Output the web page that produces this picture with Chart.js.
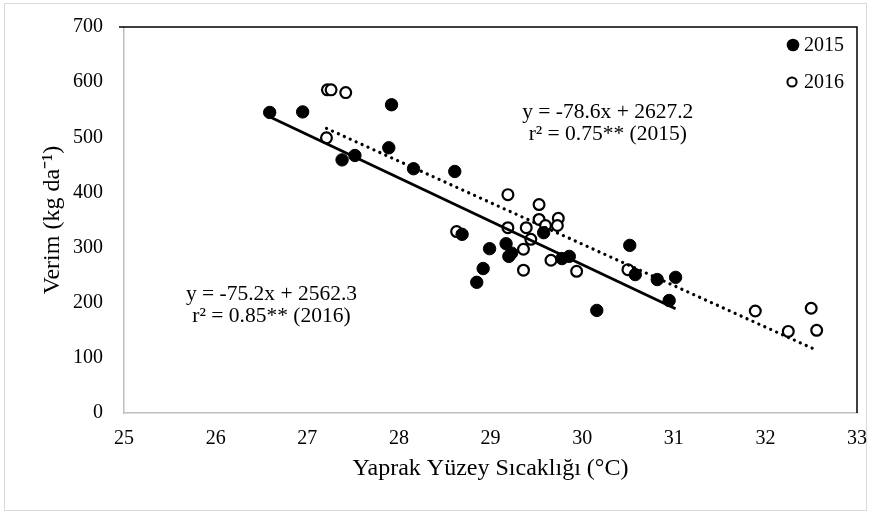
<!DOCTYPE html>
<html>
<head>
<meta charset="utf-8">
<script src="https://cdn.jsdelivr.net/npm/chart.js@4.4.1/dist/chart.umd.min.js"></script>
<style>
  html, body { margin: 0; padding: 0; background: #fff; }
  #wrap { position: relative; width: 872px; height: 515px; }
</style>
</head>
<body>
<div id="wrap"><canvas id="chart" width="872" height="515"></canvas></div>
<script>
// 2015 yılı ölçümleri (sıcaklık °C, verim kg/da)
const temp2015 = [26.59, 26.95, 27.92, 27.38, 27.52, 27.89, 28.16, 28.61, 28.69, 28.85, 28.92, 28.99,
                  29.17, 29.20, 29.23, 29.58, 29.78, 29.86, 30.16, 30.52, 30.58, 30.82, 31.02, 30.95];
const yield2015 = [545, 546, 559, 459, 467, 481, 443, 438, 324, 237, 262, 298,
                   307, 284, 290, 327, 280, 284, 186, 304, 251, 242, 246, 204];

// 2016 yılı ölçümleri
const temp2016 = [27.22, 27.26, 27.42, 27.21, 28.63, 29.19, 29.53, 29.19, 29.53, 29.39, 29.60, 29.44,
                  29.36, 29.74, 29.73, 29.66, 29.36, 29.94, 30.50, 31.89, 32.25, 32.50, 32.56];
const yield2016 = [586, 586, 581, 499, 329, 396, 378, 336, 351, 336, 340, 315,
                   297, 353, 340, 277, 259, 257, 260, 185, 148, 190, 150];

// trend çizgileri (uç noktalar)
const trend2015X = [26.6, 31.02];
const trend2015Y = [536.4, 189.0];
const trend2016X = [27.21, 32.56];
const trend2016Y = [516.1, 113.8];

// eksen ayarları
const xTicks = [25, 26, 27, 28, 29, 30, 31, 32, 33];
const yTicks = [0, 100, 200, 300, 400, 500, 600, 700];
const seriesNames = ['2015', '2016'];

// denklem etiketleri
const eq2015 = ['y = -78.6x + 2627.2', 'r² = 0.75** (2015)'];
const eq2016 = ['y = -75.2x + 2562.3', 'r² = 0.85** (2016)'];
const eqPos2015 = { x: 30.28, y: 546 };
const eqPos2016 = { x: 26.61, y: 215 };

const FONT = '"Liberation Serif", "Times New Roman", serif';

function toPoints(xs, ys) {
    return xs.map((x, i) => ({ x: x, y: ys[i] }));
}

// çerçeve, lejant ve denklemler
const decorPlugin = {
    id: 'decor',
    beforeDraw(chart) {
        const ctx = chart.ctx;
        ctx.save();
        ctx.fillStyle = '#fff';
        ctx.fillRect(0, 0, chart.width, chart.height);
        ctx.strokeStyle = '#d9d9d9';
        ctx.lineWidth = 1;
        ctx.strokeRect(4.5, 3.5, 862, 507);
        ctx.restore();
    },
    afterDraw(chart) {
        const ctx = chart.ctx;
        const a = chart.chartArea;
        const xs = chart.scales.x, ys = chart.scales.y;
        ctx.save();
        // üst ve sağ kenar
        ctx.strokeStyle = '#000';
        ctx.lineWidth = 1.5;
        ctx.beginPath();
        ctx.moveTo(a.left - 5, a.top);
        ctx.lineTo(a.right, a.top);
        ctx.lineTo(a.right, a.bottom);
        ctx.stroke();

        // lejant
        ctx.font = '20px ' + FONT;
        ctx.fillStyle = '#000';
        ctx.textBaseline = 'middle';
        ctx.textAlign = 'left';
        ctx.beginPath();
        ctx.arc(793, 45, 6.3, 0, Math.PI * 2);
        ctx.fill();
        ctx.fillText(seriesNames[0], 804, 46);
        ctx.beginPath();
        ctx.arc(792, 82, 4.6, 0, Math.PI * 2);
        ctx.lineWidth = 2;
        ctx.stroke();
        ctx.fillText(seriesNames[1], 804, 83);

        // denklemler
        ctx.font = '21.5px ' + FONT;
        ctx.textAlign = 'center';
        const drawEq = (lines, pos) => {
            const px = xs.getPixelForValue(pos.x);
            const py = ys.getPixelForValue(pos.y);
            ctx.fillText(lines[0], px, py);
            ctx.fillText(lines[1], px, py + 22);
        };
        drawEq(eq2015, eqPos2015);
        drawEq(eq2016, eqPos2016);
        ctx.restore();
    }
};

const ctx = document.getElementById('chart').getContext('2d');
new Chart(ctx, {
    type: 'scatter',
    data: {
        datasets: [
            {
                label: '2015 trend',
                type: 'line',
                data: toPoints(trend2015X, trend2015Y),
                borderColor: '#000',
                borderWidth: 2.8,
                pointRadius: 0,
                fill: false,
                order: 1
            },
            {
                label: '2016 trend',
                type: 'line',
                data: toPoints(trend2016X, trend2016Y),
                borderColor: '#000',
                borderWidth: 3.2,
                borderDash: [0.1, 6.4],
                borderCapStyle: 'round',
                pointRadius: 0,
                fill: false,
                order: 0
            },
            {
                label: seriesNames[0],
                data: toPoints(temp2015, yield2015),
                backgroundColor: '#000',
                borderColor: '#000',
                borderWidth: 1,
                pointRadius: 6.2,
                order: 2
            },
            {
                label: seriesNames[1],
                data: toPoints(temp2016, yield2016),
                backgroundColor: '#fff',
                borderColor: '#000',
                borderWidth: 2.2,
                pointRadius: 5.4,
                order: 3
            }
        ]
    },
    options: {
        responsive: false,
        animation: false,
        layout: { padding: { top: 27, right: 15, left: 0, bottom: 0 } },
        plugins: {
            legend: { display: false },
            tooltip: { enabled: false }
        },
        scales: {
            x: {
                type: 'linear',
                min: 25,
                max: 33,
                afterBuildTicks(scale) { scale.ticks = xTicks.map(v => ({ value: v })); },
                afterFit(scale) {
                    scale.height = 102;
                    scale.paddingLeft = 0;
                    scale.paddingRight = 0;
                },
                grid: { display: false, drawTicks: false },
                border: { display: true, color: '#bfbfbf', width: 1.5 },
                ticks: { font: { family: FONT, size: 20 }, color: '#000', padding: 14 },
                title: {
                    display: true,
                    text: 'Yaprak Yüzey Sıcaklığı (°C)',
                    font: { family: FONT, size: 24 },
                    color: '#000',
                    padding: { top: 0, bottom: 32 }
                }
            },
            y: {
                min: 0,
                max: 700,
                afterBuildTicks(scale) { scale.ticks = yTicks.map(v => ({ value: v })); },
                afterFit(scale) {
                    scale.width = 124;
                    scale.paddingTop = 0;
                    scale.paddingBottom = 0;
                },
                grid: { display: false, drawTicks: false },
                border: { display: true, color: '#bfbfbf', width: 1.5 },
                ticks: { font: { family: FONT, size: 20 }, color: '#000', padding: 21 },
                title: {
                    display: true,
                    text: 'Verim (kg da⁻¹)',
                    font: { family: FONT, size: 24 },
                    color: '#000',
                    padding: { top: 38, bottom: 0 }
                }
            }
        }
    },
    plugins: [decorPlugin]
});
</script>
</body>
</html>
